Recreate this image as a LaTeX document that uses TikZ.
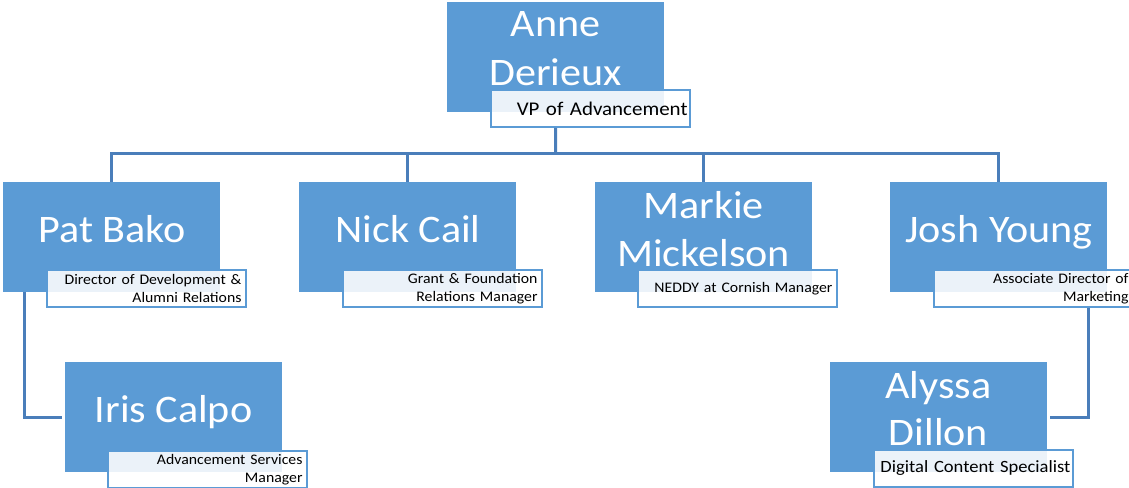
\documentclass[tikz,border=0pt]{standalone}
\usepackage{fontspec}
\setmainfont[FakeStretch=1.08]{Carlito}
\definecolor{boxblue}{HTML}{5B9BD5}
\definecolor{connblue}{HTML}{4A7EBA}
\definecolor{tborder}{HTML}{5B9BD5}
\tikzset{
  pbox/.style={fill=boxblue, draw=none, minimum width=217, minimum height=110, anchor=north west, inner sep=0},
  tbox/.style={draw=tborder, line width=2, fill=white, fill opacity=0.88, text opacity=1, minimum width=199, minimum height=37,
    text width=190, inner xsep=4.5, inner ysep=0, align=right, anchor=north west},
  tsmall/.style={tbox, font=\fontsize{14.6}{17.7}\selectfont},
  tbig/.style={tbox, text width=194, inner xsep=2.5},
  pname/.style={text=white, font=\fontsize{39}{48}\selectfont, anchor=base, inner sep=0},
  conn/.style={draw=connblue, line width=3}
}
\begin{document}
\begin{tikzpicture}[x=1pt,y=-1pt]
\useasboundingbox (0,0) rectangle (1129,487);
% boxes
\node[pbox] (anne) at (447,2) {};
\node[pbox] (pat) at (3,182) {};
\node[pbox] (nick) at (299,182) {};
\node[pbox] (markie) at (595,182) {};
\node[pbox] (josh) at (890,182) {};
\node[pbox] (iris) at (65,362) {};
\node[pbox] (alyssa) at (830,362) {};
% titles
\node[tbig, font=\fontsize{19.4}{22}\selectfont] (anne-t) at (490,89) {\mbox{VP of Advancement}\hspace*{4.5pt}};
\node[tsmall] (pat-t) at (46,269) {Director of Development \&\\Alumni Relations};
\node[tsmall] (nick-t) at (342,269) {Grant \& Foundation\\Relations Manager};
\node[tsmall] (markie-t) at (637,269) {NEDDY at Cornish Manager};
\node[tsmall] (josh-t) at (933,269) {Associate Director of\\Marketing};
\node[tsmall] (iris-t) at (107,450) {Advancement Services\\Manager};
\node[tbig, font=\fontsize{17.2}{20}\selectfont] (alyssa-t) at (873,449) {\mbox{Digital Content Specialist}\hspace*{2.5pt}};
% connectors
\coordinate (bus) at (555.5,153);
\draw[conn] (anne-t.south -| anne.center) -- (bus);
\draw[conn] (bus) -| (pat.north);
\draw[conn] (bus) -| (nick.north);
\draw[conn] (bus) -| (markie.north);
\draw[conn] (bus) -| (josh.north);
\draw[conn, shorten >=3] (pat.south -| 24,0) |- (iris.west);
\draw[conn, shorten >=3] (josh-t.south -| 1088,0) |- (alyssa.east);
% names
\node[pname] (anne-n1) at (555.5,37) {Anne};
\node[pname] (anne-n2) at (555.5,85) {Derieux};
\node[pname] (pat-n) at (112,242) {Pat Bako};
\node[pname] (nick-n) at (408,242) {Nick Cail};
\node[pname] (markie-n1) at (703.5,218) {Markie};
\node[pname] (markie-n2) at (703.5,266) {Mickelson};
\node[pname] (josh-n) at (999,242) {Josh Young};
\node[pname] (iris-n) at (173.5,422) {Iris Calpo};
\node[pname] (alyssa-n1) at (938.5,398) {Alyssa};
\node[pname] (alyssa-n2) at (938.5,445) {Dillon};
\end{tikzpicture}
\end{document}
